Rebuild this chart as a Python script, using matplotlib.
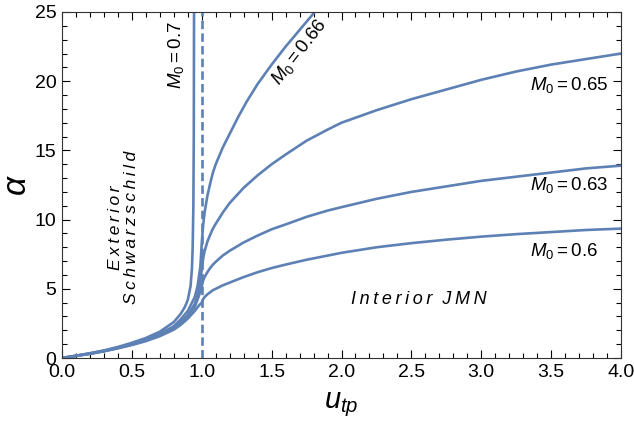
import matplotlib
matplotlib.use("Agg")
import matplotlib.pyplot as plt
import matplotlib.ticker as ticker

plt.rcParams['font.family'] = ['Liberation Sans', 'DejaVu Sans']
plt.rcParams['mathtext.fontset'] = 'custom'
plt.rcParams['mathtext.it'] = 'Liberation Sans:italic'
plt.rcParams['mathtext.rm'] = 'Liberation Sans'

# ---- data ----
u_07 = [0, 0.1, 0.2, 0.3, 0.4, 0.5, 0.6, 0.7, 0.8, 0.85, 0.88, 0.9, 0.92, 0.93, 0.935, 0.94, 0.943, 0.945]
a_07 = [0, 0.17, 0.35, 0.55, 0.8, 1.1, 1.45, 1.9, 2.6, 3.2, 3.7, 4.2, 5.2, 6.5, 8.0, 11.0, 16.0, 26.0]

u_066 = [0, 0.1, 0.2, 0.3, 0.4, 0.5, 0.6, 0.7, 0.8, 0.85, 0.9, 0.95, 0.97, 0.99, 1.0,
         1.005, 1.01, 1.02, 1.04, 1.06, 1.08, 1.1, 1.15, 1.2, 1.26, 1.32, 1.4, 1.5, 1.6, 1.7, 1.8, 1.9]
a_066 = [0, 0.16, 0.33, 0.52, 0.76, 1.02, 1.35, 1.75, 2.3, 2.8, 3.4, 4.4, 5.2, 6.6, 8.3,
         9.0, 9.6, 10.5, 11.7, 12.6, 13.4, 14.0, 15.2, 16.2, 17.4, 18.5, 19.8, 21.2, 22.5, 23.7, 24.9, 26.0]

u_065 = [0, 0.1, 0.2, 0.3, 0.4, 0.5, 0.6, 0.7, 0.8, 0.85, 0.9, 0.95, 0.98, 1.0,
         1.01, 1.02, 1.04, 1.06, 1.08, 1.1, 1.15, 1.2, 1.3, 1.4, 1.5, 1.6, 1.75, 1.9, 2.0,
         2.25, 2.5, 2.75, 3.0, 3.25, 3.5, 3.75, 4.0]
a_065 = [0, 0.16, 0.32, 0.51, 0.74, 1.0, 1.3, 1.7, 2.2, 2.6, 3.1, 3.9, 4.9, 6.4,
         7.2, 7.7, 8.4, 8.9, 9.35, 9.7, 10.5, 11.2, 12.3, 13.2, 14.0, 14.7, 15.7, 16.5, 17.0,
         17.9, 18.7, 19.4, 20.1, 20.7, 21.2, 21.6, 22.0]

u_063 = [0, 0.1, 0.2, 0.3, 0.4, 0.5, 0.6, 0.7, 0.8, 0.85, 0.9, 0.95, 0.98, 1.0,
         1.01, 1.02, 1.04, 1.06, 1.08, 1.1, 1.15, 1.2, 1.3, 1.4, 1.5, 1.6, 1.75, 1.9, 2.0,
         2.25, 2.5, 2.75, 3.0, 3.25, 3.5, 3.75, 4.0]
a_063 = [0, 0.15, 0.31, 0.5, 0.72, 0.97, 1.27, 1.65, 2.15, 2.5, 3.0, 3.7, 4.5, 5.2,
         5.6, 5.85, 6.2, 6.5, 6.75, 6.95, 7.4, 7.75, 8.35, 8.85, 9.3, 9.65, 10.2, 10.65, 10.9,
         11.5, 12.0, 12.4, 12.8, 13.1, 13.4, 13.7, 13.9]

u_060 = [0, 0.1, 0.2, 0.3, 0.4, 0.5, 0.6, 0.7, 0.8, 0.85, 0.9, 0.95, 0.98, 1.0,
         1.01, 1.02, 1.04, 1.06, 1.08, 1.1, 1.15, 1.2, 1.3, 1.4, 1.5, 1.6, 1.75, 1.9, 2.0,
         2.25, 2.5, 2.75, 3.0, 3.25, 3.5, 3.75, 4.0]
a_060 = [0, 0.15, 0.3, 0.48, 0.7, 0.94, 1.22, 1.58, 2.05, 2.4, 2.85, 3.4, 3.8, 4.0,
         4.25, 4.4, 4.6, 4.75, 4.9, 5.0, 5.25, 5.45, 5.85, 6.2, 6.5, 6.75, 7.1, 7.4, 7.6,
         8.0, 8.3, 8.55, 8.77, 8.95, 9.1, 9.25, 9.35]

boundary_u = 1.0

color = "#5E81B5"

fig = plt.figure(figsize=(6.34, 4.21), dpi=100)
ax = fig.add_axes([0.0978, 0.1496, 0.8817, 0.8219])

for u, a in [(u_07, a_07), (u_066, a_066), (u_065, a_065), (u_063, a_063), (u_060, a_060)]:
    ax.plot(u, a, color=color, lw=1.9, solid_joinstyle="round")

ax.axvline(boundary_u, color=color, lw=1.9, ls=(0, (3.2, 1.6)))

ax.set_xlim(0, 4)
ax.set_ylim(0, 25)

ax.xaxis.set_major_locator(ticker.MultipleLocator(0.5))
ax.xaxis.set_minor_locator(ticker.MultipleLocator(0.1))
ax.yaxis.set_major_locator(ticker.MultipleLocator(5))
ax.yaxis.set_minor_locator(ticker.MultipleLocator(1))
ax.xaxis.set_major_formatter(ticker.FormatStrFormatter("%.1f"))
ax.tick_params(which="both", direction="in", top=True, right=True, labelsize=14, width=0.8,
               pad=4)
ax.tick_params(which="major", length=6)
ax.tick_params(which="minor", length=3.5)
for sp in ax.spines.values():
    sp.set_linewidth(0.8)
    sp.set_color("#333333")

ax.set_xlabel(r"$u_{tp}$", fontsize=21, labelpad=7)
ax.set_ylabel(r"$\alpha$", fontsize=24, labelpad=1)

# annotations (thin spaces for the loose letter spacing)
ts = "\u2009"
ax.text(0.44, 9.4, ts.join("Exterior") + "\n" + ts.join("Schwarzschild"), rotation=90,
        style="italic", fontsize=12.5, ha="center", va="center", linespacing=1.05)
ax.text(2.55, 4.2, ts.join("Interior") + "  " + ts.join("JMN"), style="italic", fontsize=13,
        ha="center", va="center")
ax.text(0.815, 21.9, r"$M_0=0.7$", rotation=90, fontsize=13.5, ha="center", va="center")
ax.text(1.70, 22.1, r"$M_0=0.66$", rotation=52, fontsize=13.5, ha="center", va="center")
ax.text(3.35, 19.7, r"$M_0=0.65$", fontsize=13.5, ha="left", va="center")
ax.text(3.35, 12.5, r"$M_0=0.63$", fontsize=13.5, ha="left", va="center")
ax.text(3.35, 7.7, r"$M_0=0.6$", fontsize=13.5, ha="left", va="center")

fig.savefig("out.png", dpi=100)
